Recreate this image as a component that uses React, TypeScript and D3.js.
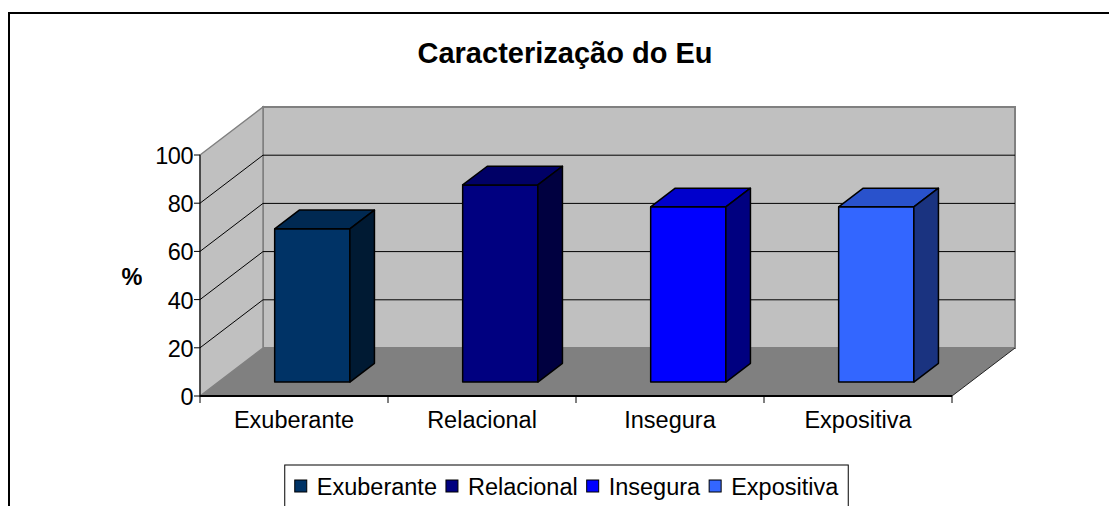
import { useEffect, useRef } from "react";
import * as d3 from "d3";

const CATEGORIES = ["Exuberante", "Relacional", "Insegura", "Expositiva"];
const VALUES = [63.6, 81.8, 72.7, 72.7];
const BAR_COLORS = ["#003366", "#000080", "#0000ff", "#3366ff"];
const Y_TICKS = [0, 20, 40, 60, 80, 100];
const TITLE = "Caracterização do Eu";
const Y_LABEL = "%";

const WIDTH = 1109;
const HEIGHT = 506;
const FONT = "'Liberation Sans', Arial, Helvetica, sans-serif";
const LABEL_SIZE = 23.5;

// Front plane of the 3D box, plus the depth vector going to the back wall
const FRONT_LEFT = 200;
const FRONT_RIGHT = 952;
const FRONT_BOTTOM = 396;
const FRONT_TOP = 155;
const DEPTH_X = 63;
const DEPTH_Y = -48;
const BAR_DEPTH: [number, number] = [0.29, 0.68]; // bars sit in the middle of the depth
const BAR_WIDTH_RATIO = 0.4;

const WALL_FILL = "#c0c0c0";
const FLOOR_FILL = "#808080";
const EDGE_GRAY = "#808080";

type Pt = [number, number];

function shade(color: string, k: number) {
  const c = d3.rgb(color);
  return d3.rgb(c.r * k, c.g * k, c.b * k).formatHex();
}

function renderChart(el: SVGSVGElement | null) {
  if (!el) return;
  const svg = d3.select(el);
  svg.selectAll("*").remove();

  const x = d3.scaleBand<string>().domain(CATEGORIES).range([FRONT_LEFT, FRONT_RIGHT]).padding(0);
  const y = d3.scaleLinear().domain([0, 100]).range([FRONT_BOTTOM, FRONT_TOP]);

  // project (x pixel on front plane, value, depth 0..1) to screen
  const pt = (px: number, v: number, d: number): Pt => [px + d * DEPTH_X, y(v) + d * DEPTH_Y];
  const poly = (pts: Pt[]) => "M" + pts.map((p) => p.join(",")).join("L") + "Z";
  const [x0, x1] = x.range();
  const [vMin, vMax] = y.domain();

  // outer chart frame (right and bottom edges run off the picture)
  svg
    .append("rect")
    .attr("x", 9)
    .attr("y", 13)
    .attr("width", WIDTH)
    .attr("height", HEIGHT)
    .attr("fill", "#fff")
    .attr("stroke", "#000")
    .attr("stroke-width", 2);

  // title
  svg
    .append("text")
    .attr("x", 565)
    .attr("y", 63)
    .attr("text-anchor", "middle")
    .attr("font-family", FONT)
    .attr("font-weight", "bold")
    .attr("font-size", 29)
    .attr("fill", "#000")
    .text(TITLE);

  // walls and floor
  svg
    .append("path")
    .attr("d", poly([pt(x0, vMin, 1), pt(x1, vMin, 1), pt(x1, vMax, 1), pt(x0, vMax, 1)]))
    .attr("fill", WALL_FILL)
    .attr("stroke", EDGE_GRAY)
    .attr("stroke-width", 2);

  svg
    .append("path")
    .attr("d", poly([pt(x0, vMin, 0), pt(x0, vMin, 1), pt(x0, vMax, 1), pt(x0, vMax, 0)]))
    .attr("fill", WALL_FILL)
    .attr("stroke", EDGE_GRAY)
    .attr("stroke-width", 1.5);

  svg
    .append("path")
    .attr("d", poly([pt(x0, vMin, 0), pt(x1, vMin, 0), pt(x1, vMin, 1), pt(x0, vMin, 1)]))
    .attr("fill", FLOOR_FILL)
    .attr("stroke", "none");

  // floor right edge
  const fr0 = pt(x1, vMin, 0);
  const fr1 = pt(x1, vMin, 1);
  svg
    .append("line")
    .attr("x1", fr0[0])
    .attr("y1", fr0[1])
    .attr("x2", fr1[0])
    .attr("y2", fr1[1])
    .attr("stroke", "#222")
    .attr("stroke-width", 1);

  // gridlines on back and side wall
  Y_TICKS.filter((v) => v > vMin && v < vMax).forEach((v) => {
    const a = pt(x0, v, 1);
    const b = pt(x1, v, 1);
    const s = pt(x0, v, 0);
    svg
      .append("line")
      .attr("x1", a[0])
      .attr("y1", a[1])
      .attr("x2", b[0])
      .attr("y2", b[1])
      .attr("stroke", "#000")
      .attr("stroke-width", 1);
    svg
      .append("line")
      .attr("x1", s[0])
      .attr("y1", s[1])
      .attr("x2", a[0])
      .attr("y2", a[1])
      .attr("stroke", "#000")
      .attr("stroke-width", 1);
  });

  // bars: front, top and right side faces
  const bw = x.bandwidth() * BAR_WIDTH_RATIO;
  const [d0, d1] = BAR_DEPTH;
  CATEGORIES.forEach((cat, i) => {
    const v = VALUES[i];
    const cx = (x(cat) ?? 0) + x.bandwidth() / 2;
    const bl = cx - bw / 2;
    const br = cx + bw / 2;
    const color = BAR_COLORS[i];
    const g = svg
      .append("g")
      .attr("stroke", "#000")
      .attr("stroke-width", 1.5)
      .attr("stroke-linejoin", "round");
    g.append("path")
      .attr("d", poly([pt(bl, 0, d0), pt(br, 0, d0), pt(br, v, d0), pt(bl, v, d0)]))
      .attr("fill", color);
    g.append("path")
      .attr("d", poly([pt(bl, v, d0), pt(br, v, d0), pt(br, v, d1), pt(bl, v, d1)]))
      .attr("fill", shade(color, 0.8));
    g.append("path")
      .attr("d", poly([pt(br, 0, d0), pt(br, 0, d1), pt(br, v, d1), pt(br, v, d0)]))
      .attr("fill", shade(color, 0.5));
  });

  // y axis
  svg
    .append("line")
    .attr("x1", x0)
    .attr("y1", y(vMin))
    .attr("x2", x0)
    .attr("y2", y(vMax))
    .attr("stroke", "#000")
    .attr("stroke-width", 1);

  Y_TICKS.forEach((v) => {
    svg
      .append("line")
      .attr("x1", x0 - 6)
      .attr("y1", y(v))
      .attr("x2", x0)
      .attr("y2", y(v))
      .attr("stroke", "#000")
      .attr("stroke-width", 1);
    svg
      .append("text")
      .attr("x", x0 - 7)
      .attr("y", y(v) + 1)
      .attr("text-anchor", "end")
      .attr("dominant-baseline", "central")
      .attr("font-family", FONT)
      .attr("font-size", LABEL_SIZE)
      .attr("letter-spacing", -0.5)
      .attr("fill", "#000")
      .text(v);
  });

  // "%" axis title, clipped on its right side as in the original
  svg
    .append("clipPath")
    .attr("id", "ylabel-clip")
    .append("rect")
    .attr("x", 0)
    .attr("y", 0)
    .attr("width", 142.5)
    .attr("height", HEIGHT);
  svg
    .append("text")
    .attr("x", 121.5)
    .attr("y", y(50) + 1)
    .attr("dominant-baseline", "central")
    .attr("font-family", FONT)
    .attr("font-weight", "bold")
    .attr("font-size", LABEL_SIZE)
    .attr("clip-path", "url(#ylabel-clip)")
    .attr("fill", "#000")
    .text(Y_LABEL);

  // x axis
  svg
    .append("line")
    .attr("x1", x0)
    .attr("y1", y(vMin))
    .attr("x2", x1)
    .attr("y2", y(vMin))
    .attr("stroke", "#000")
    .attr("stroke-width", 2);

  const boundaries = [...CATEGORIES.map((c) => x(c) ?? 0), x1];
  boundaries.forEach((bx) => {
    svg
      .append("line")
      .attr("x1", bx)
      .attr("y1", y(vMin))
      .attr("x2", bx)
      .attr("y2", y(vMin) + 7)
      .attr("stroke", "#000")
      .attr("stroke-width", 1);
  });

  CATEGORIES.forEach((cat) => {
    svg
      .append("text")
      .attr("x", (x(cat) ?? 0) + x.bandwidth() / 2)
      .attr("y", y(vMin) + 32)
      .attr("text-anchor", "middle")
      .attr("font-family", FONT)
      .attr("font-size", LABEL_SIZE)
      .attr("fill", "#000")
      .text(cat);
  });

  // legend
  const legendCenter = 566.5;
  const legendTop = 465;
  const legendY = 486;
  const sq = 12;
  const pad = 10;
  const gapText = 10;
  const gapItem = 9;

  const legend = svg.append("g");
  const box = legend
    .append("rect")
    .attr("y", legendTop)
    .attr("height", 80)
    .attr("fill", "#fff")
    .attr("stroke", "#000")
    .attr("stroke-width", 1);

  const items = CATEGORIES.map((cat, i) => {
    const rect = legend
      .append("rect")
      .attr("y", legendY - sq / 2)
      .attr("width", sq)
      .attr("height", sq)
      .attr("fill", BAR_COLORS[i])
      .attr("stroke", "#000")
      .attr("stroke-width", 1);
    const text = legend
      .append("text")
      .attr("y", legendY + 1)
      .attr("dominant-baseline", "central")
      .attr("font-family", FONT)
      .attr("font-size", LABEL_SIZE)
      .attr("fill", "#000")
      .text(cat);
    const w = (text.node() as SVGTextElement).getComputedTextLength();
    return { rect, text, w };
  });

  const total =
    pad * 2 +
    d3.sum(items, (d) => sq + gapText + d.w) +
    gapItem * (items.length - 1);
  let cursor = legendCenter - total / 2;
  box.attr("x", cursor).attr("width", total);
  cursor += pad;
  items.forEach((d) => {
    d.rect.attr("x", cursor);
    cursor += sq + gapText;
    d.text.attr("x", cursor);
    cursor += d.w + gapItem;
  });
}

export default function App() {
  const svgRef = useRef<SVGSVGElement>(null);

  useEffect(() => {
    renderChart(svgRef.current);
  }, []);

  return (
    <svg
      ref={svgRef}
      width={WIDTH}
      height={HEIGHT}
      style={{ position: "absolute", left: 0, top: 0, background: "#fff", display: "block" }}
    />
  );
}
